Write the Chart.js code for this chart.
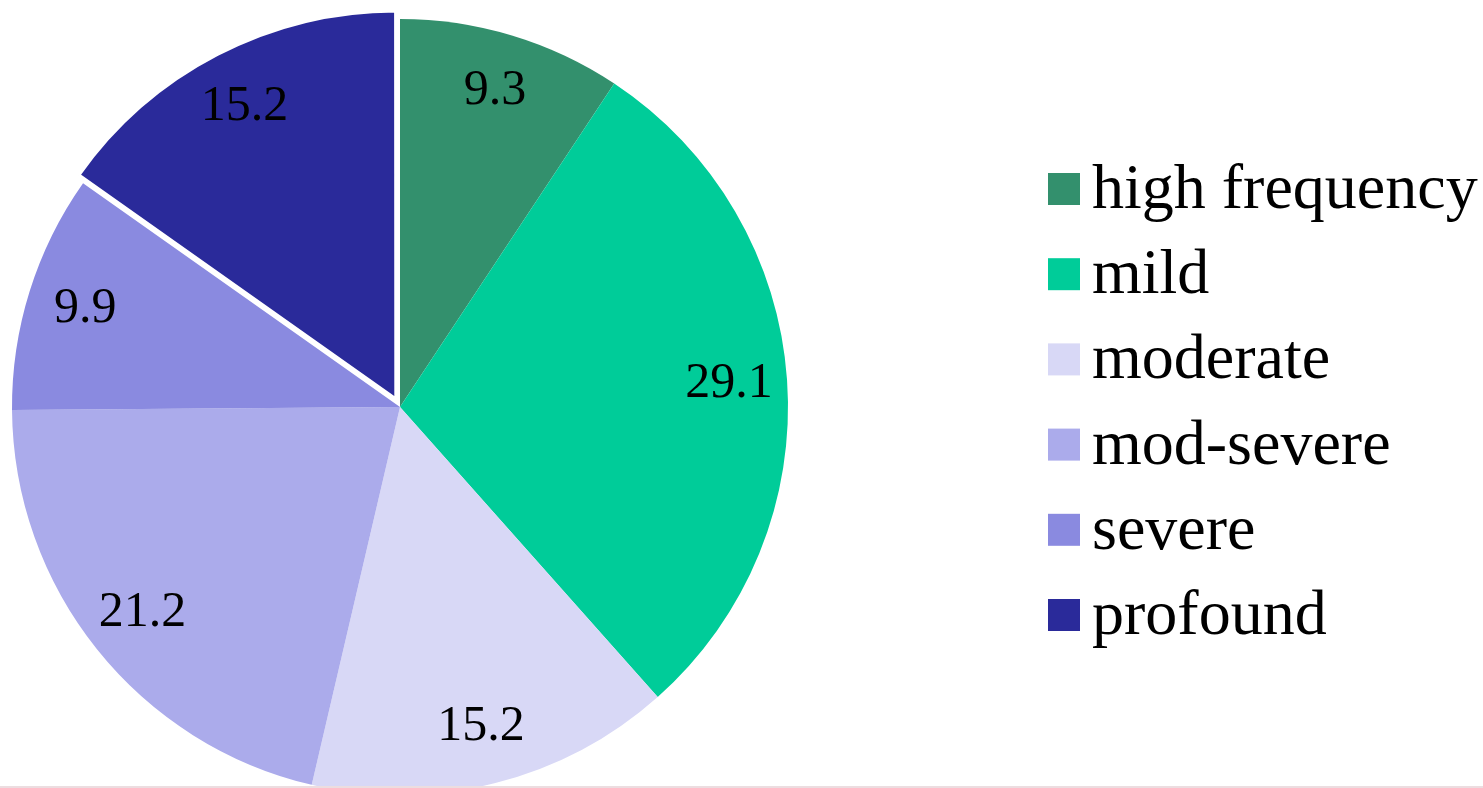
<!DOCTYPE html>
<html>
<head>
<meta charset="utf-8">
<script src="https://cdn.jsdelivr.net/npm/chart.js@4/dist/chart.umd.min.js"></script>
<style>
  html, body { margin: 0; padding: 0; background: #fff; overflow: hidden; }
  #wrap { position: relative; width: 1483px; height: 788px; }
  #wrap::after { content: ''; position: absolute; left: 0; right: 0; bottom: 0; height: 2px; background: #ecdde0; }
</style>
</head>
<body>
<div id="wrap"><canvas id="pie" width="1483" height="788"></canvas></div>
<script>
const categories = ['high frequency', 'mild', 'moderate', 'mod-severe', 'severe', 'profound'];
const values = [9.3, 29.1, 15.2, 21.2, 9.9, 15.2];
const valueLabels = ['9.3', '29.1', '15.2', '21.2', '9.9', '15.2'];
const colors = ['#33906d', '#00cc99', '#d8d8f6', '#ababeb', '#8a8ae0', '#2a2a9a'];
// profound slice is pulled out a little in the original
const explode = [0, 0, 0, 0, 0, 32];
const edge = [0, 0, 0, 0, 0, 4];

const serif = '"Liberation Serif", "Times New Roman", serif';

// value labels along each slice's mid angle
const sliceLabels = {
    id: 'sliceLabels',
    afterDatasetsDraw(chart) {
        const {ctx} = chart;
        const meta = chart.getDatasetMeta(0);
        ctx.save();
        ctx.font = `50px ${serif}`;
        ctx.fillStyle = '#000';
        ctx.textAlign = 'center';
        ctx.textBaseline = 'middle';
        meta.data.forEach((arc, i) => {
            const {x, y, startAngle, endAngle, outerRadius} = arc.getProps(['x', 'y', 'startAngle', 'endAngle', 'outerRadius']);
            const mid = (startAngle + endAngle) / 2;
            const r = outerRadius * 0.85 + explode[i] / 4;
            ctx.fillText(valueLabels[i], x + Math.cos(mid) * r, y + Math.sin(mid) * r);
        });
        ctx.restore();
    }
};

// legend on the right, square swatch + serif text
const sideLegend = {
    id: 'sideLegend',
    afterDraw(chart) {
        const {ctx} = chart;
        const ds = chart.data.datasets[0];
        ctx.save();
        ctx.font = `64px ${serif}`;
        ctx.textAlign = 'left';
        ctx.textBaseline = 'alphabetic';
        chart.data.labels.forEach((lab, i) => {
            const base = 208 + i * 85.2;
            ctx.fillStyle = ds.backgroundColor[i];
            ctx.fillRect(1048, base - 35, 32, 32);
            ctx.fillStyle = '#000';
            ctx.fillText(lab, 1092, base);
        });
        ctx.restore();
    }
};

new Chart(document.getElementById('pie'), {
    type: 'pie',
    data: {
        labels: categories,
        datasets: [{
            data: values,
            backgroundColor: colors,
            borderColor: '#ffffff',
            borderWidth: edge,
            offset: explode,
            clip: false
        }]
    },
    options: {
        responsive: false,
        animation: false,
        radius: 388,
        layout: {padding: {left: 0, right: 683, top: 26, bottom: 0}},
        plugins: {
            legend: {display: false},
            tooltip: {enabled: false}
        }
    },
    plugins: [sliceLabels, sideLegend]
});
</script>
</body>
</html>
